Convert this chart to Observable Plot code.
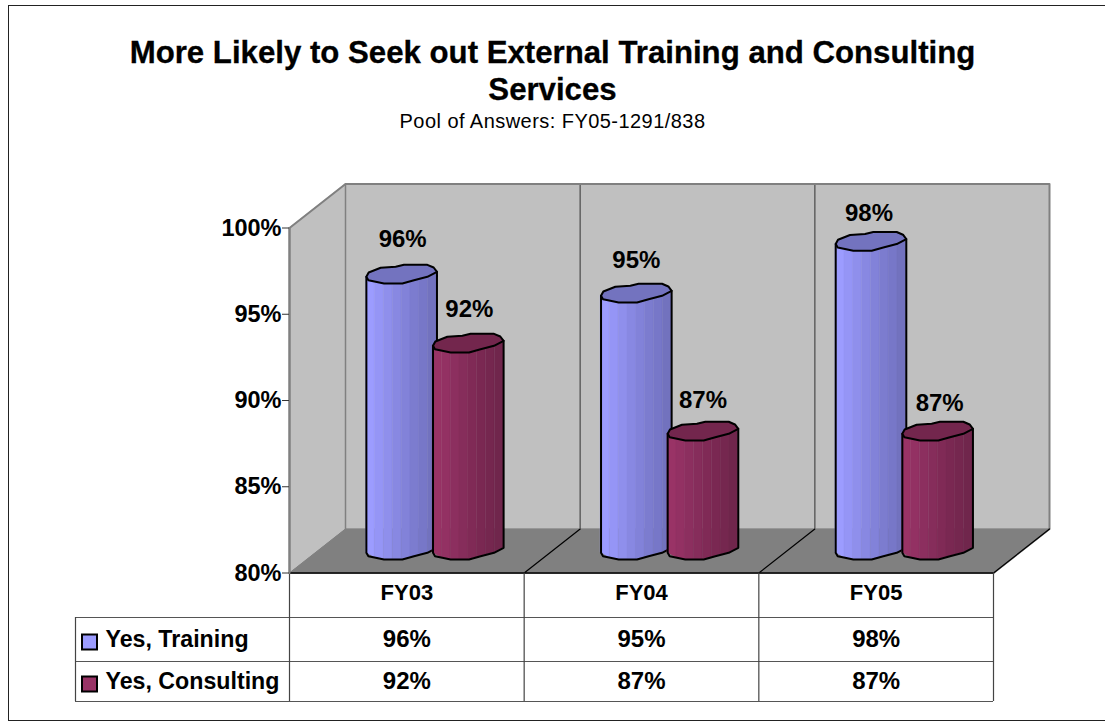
<!DOCTYPE html>
<html>
<head>
<meta charset="utf-8">
<script src="https://cdn.jsdelivr.net/npm/d3@7"></script>
<script src="https://cdn.jsdelivr.net/npm/@observablehq/plot@0.6"></script>
<style>
  html, body { margin: 0; padding: 0; background: #fff; }
  body { width: 1105px; height: 723px; overflow: hidden; position: relative; font-family: "Liberation Sans", Arial, sans-serif; color: #000; }
  #frame { position: absolute; left: 8px; top: 5px; width: 1110px; height: 716px; border: 1.5px solid #222; box-sizing: border-box; pointer-events: none; }
  #head { position: relative; height: 165px; text-align: center; }
  #title { position: absolute; left: 0; right: 0; top: 34px; margin: 0; font-size: 31.2px; line-height: 37px; font-weight: bold; -webkit-text-stroke: 0.3px #000; }
  #sub { position: absolute; left: 0; right: 0; top: 110px; font-size: 20px; line-height: 22px; letter-spacing: 0.45px; }
  #chart svg { display: block; }
</style>
</head>
<body>
<div id="frame"></div>
<div id="head">
  <h1 id="title">More Likely to Seek out External Training and Consulting<br>Services</h1>
  <div id="sub">Pool of Answers: FY05-1291/838</div>
</div>
<div id="chart"></div>
<script>
// ---- chart values ----
const categories = ["FY03", "FY04", "FY05"];
const seriesNames = ["Yes, Training", "Yes, Consulting"];
const training = [96, 94.9, 97.9];
const consulting = [92, 86.9, 86.9];
const yTicks = [80, 85, 90, 95, 100];

// ---- styling ----
const font = "'Liberation Sans', Arial, sans-serif";
const ramps = [
  ["#9c9cff", "#9595f6", "#8f8fec", "#8888e2", "#8282d9", "#7c7ccf", "#7777c8", "#7272be"],
  ["#993366", "#933163", "#8c2f5f", "#862d5b", "#802a56", "#7a2852", "#75274f", "#70264c"]
];
const capColors = ["#7373bf", "#73264d"];
// small per-label placement corrections, pixels [series][category]
const labelNudgeY = [[2, 0, -5], [1, -2, -5]];
const labelNudgeX = [[1, 0, -2], [1, 0, 2]];

// ---- projection helpers: data units per screen pixel ----
const width = 1105, height = 558;
const frameL = 289, frameR = 993, frameT = 62.5, frameB = 407.5;
const catPx = (frameR - frameL) / categories.length;
const pctPx = (frameB - frameT) / 20;
const cx = px => px / catPx;
const cy = px => px / pctPx;
const depthX = cx(56), depthY = cy(44);
const maxCat = categories.length;

// outline of a cylinder's cross-section, pixels from the centre (y grows down)
const backEdge = [[-35.3,2.3],[-33,-2],[-21,-6.7],[-6,-7.7],[2.3,-9.7],[25.7,-9.7],[32,-7],[35.3,-2.7]];
const frontEdge = [[35.3,-2.7],[25.7,2.3],[12.3,5.7],[0.7,9],[-17.7,9],[-26,7.3],[-33.3,5.7],[-35.3,2.3]];
const frontAsc = [...frontEdge].reverse();
const frontAt = d3.scaleLinear().domain(frontAsc.map(d => d[0])).range(frontAsc.map(d => d[1]));

const seriesOffset = [0.478, 0.762];   // bar centre inside its category
const baseLift = cy(22.5);             // bars stand in the middle of the floor
const stripEdges = d3.range(9).map(i => -35.3 + i * 8.825);

const bars = [];
[training, consulting].forEach((vals, s) => vals.forEach((v, c) => bars.push({
  s, c, v, cat: c + seriesOffset[s], top: v + baseLift, bottom: 80 + baseLift
})));

const strips = [], outlines = [], caps = [];
bars.forEach((b, bi) => {
  d3.pairs(stripEdges).forEach(([u1, u2], k) => {
    for (const u of [u1, u2]) strips.push({
      z: bi + "-" + k, bi, x: b.cat + cx(u), fill: ramps[b.s][k],
      y1: b.bottom - cy(frontAt(u)), y2: b.top - cy(frontAt(u))
    });
  });
  const body = [[-35.3, 2.3, b.top], ...frontAsc.map(([u, w]) => [u, w, b.bottom]), [35.3, -2.7, b.top]];
  body.forEach(([u, w, base]) => outlines.push({ bi, x: b.cat + cx(u), y: base - cy(w) }));
  [...backEdge, ...frontEdge].forEach(([u, w]) => caps.push({ bi, x: b.cat + cx(u), y: b.top - cy(w) }));
});

// ---- walls, floor ----
const leftWall = [
  { x: 0, y1: 80, y2: 100 },
  { x: depthX, y1: 80 + depthY, y2: 100 + depthY }
];
const floor = [
  { x: 0, y: 80 }, { x: maxCat, y: 80 },
  { x: maxCat + depthX, y: 80 + depthY }, { x: depthX, y: 80 + depthY }
];
const wallEdge = [
  { x: 0, y: 80 }, { x: 0, y: 100 }, { x: depthX, y: 100 + depthY },
  { x: maxCat + depthX, y: 100 + depthY }, { x: maxCat + depthX, y: 80 + depthY }, { x: maxCat, y: 80 }
];

// ---- table under the plot ----
const rowEdges = [80, 80 - cy(44.5), 80 - cy(88.5), 80 - cy(128.5)];
const rowMid = [80 - cy(20.5), 80 - cy(66.5), 80 - cy(108.5)];
const tableLeft = cx(75 - frameL);
const swatchL = cx(82 - frameL), swatchR = cx(97 - frameL), keyText = cx(105 - frameL);
const swatchH = cy(7.5);

const cells = [];
[training, consulting].forEach((vals, s) => vals.forEach((v, c) =>
  cells.push({ x: c + 0.5, y: rowMid[s + 1], t: Math.round(v) + "%" })));

const labels = bars.map(b => ({
  x: b.cat + cx(labelNudgeX[b.s][b.c]),
  y: b.top + cy(33 + labelNudgeY[b.s][b.c]),
  t: Math.round(b.v) + "%"
}));

const barMarks = bars.flatMap((b, bi) => [
  Plot.areaY(strips.filter(d => d.bi === bi), { x: "x", y1: "y1", y2: "y2", z: "z", fill: "fill", stroke: "fill", strokeWidth: 0.4 }),
  Plot.line(outlines.filter(d => d.bi === bi), { x: "x", y: "y", stroke: "#000", strokeWidth: 2, strokeLinejoin: "round" }),
  Plot.line(caps.filter(d => d.bi === bi), { x: "x", y: "y", fill: capColors[b.s], stroke: "#000", strokeWidth: 2, curve: "linear-closed", strokeLinejoin: "round" })
]);

const plot = Plot.plot({
  width, height,
  marginLeft: frameL, marginRight: width - frameR, marginTop: frameT, marginBottom: height - frameB,
  x: { domain: [0, maxCat], axis: null },
  y: { domain: [80, 100], axis: null },
  color: { type: "identity" },
  style: { background: "transparent", fontFamily: font, color: "#000" },
  marks: [
    // back wall and side wall
    Plot.rect([{}], { x1: depthX, x2: maxCat + depthX, y1: 80 + depthY, y2: 100 + depthY, fill: "#c0c0c0" }),
    Plot.areaY(leftWall, { x: "x", y1: "y1", y2: "y2", fill: "#c0c0c0" }),
    Plot.ruleX([1, 2], { x: d => d + depthX, y1: 80 + depthY, y2: 100 + depthY, stroke: "#606060", strokeWidth: 1.5 }),
    Plot.line(floor, { x: "x", y: "y", fill: "#808080", stroke: "#808080", curve: "linear-closed" }),
    Plot.line([{ x: depthX, y: 100 + depthY }, { x: depthX, y: 80 + depthY }], { x: "x", y: "y", stroke: "#808080", strokeWidth: 1.5 }),
    Plot.line(wallEdge, { x: "x", y: "y", stroke: "#808080", strokeWidth: 2 }),
    // floor dividers
    ...[1, 2].map(c => Plot.line([{ x: c, y: 80 }, { x: c + depthX, y: 80 + depthY }], { x: "x", y: "y", stroke: "#000", strokeWidth: 1.2 })),
    Plot.line([{ x: maxCat, y: 80 }, { x: maxCat + depthX, y: 80 + depthY }], { x: "x", y: "y", stroke: "#000", strokeWidth: 1.2 }),
    // cylinders
    ...barMarks,
    Plot.text(labels, { x: "x", y: "y", text: "t", fontSize: 24, fontWeight: "bold", fill: "#000" }),
    // table grid
    Plot.ruleY([rowEdges[0]], { x1: 0, x2: maxCat, stroke: "#000", strokeWidth: 1.5 }),
    Plot.ruleY(rowEdges.slice(1), { x1: tableLeft, x2: maxCat, stroke: "#555", strokeWidth: 1.2 }),
    Plot.ruleX([0, 1, 2, 3], { y1: rowEdges[3], y2: rowEdges[0], stroke: "#444", strokeWidth: 1.2 }),
    Plot.ruleX([tableLeft], { y1: rowEdges[3], y2: rowEdges[1], stroke: "#444", strokeWidth: 1.2 }),
    Plot.line([{ x: 0, y: 80 }, { x: 0, y: 100 }], { x: "x", y: "y", stroke: "#808080", strokeWidth: 2 }),
    // axes
    Plot.axisY({ ticks: yTicks, tickFormat: d => d + "%", tickSize: 7, tickPadding: 1, fontSize: 23.5, fontWeight: "bold", stroke: "#333", fill: "#000", label: null }),
    Plot.axisX({ ticks: [0.5, 1.5, 2.5], tickFormat: d => categories[d - 0.5], tickSize: 0, tickPadding: 11, fontSize: 22, fontWeight: "bold", fill: "#000", label: null }),
    // table body
    Plot.text(cells, { x: "x", y: "y", text: "t", fontSize: 24, fontWeight: "bold", fill: "#000" }),
    Plot.rect(seriesNames, {
      x1: swatchL, x2: swatchR,
      y1: (d, i) => rowMid[i + 1] - cy(3) - swatchH,
      y2: (d, i) => rowMid[i + 1] - cy(3) + swatchH,
      fill: (d, i) => ramps[i][0], stroke: "#000", strokeWidth: 2
    }),
    Plot.text(seriesNames, {
      x: keyText, y: (d, i) => rowMid[i + 1], text: d => d, textAnchor: "start",
      fontSize: 23.2, fontWeight: "bold", fill: "#000"
    })
  ]
});
document.getElementById("chart").appendChild(plot);
</script>
</body>
</html>
